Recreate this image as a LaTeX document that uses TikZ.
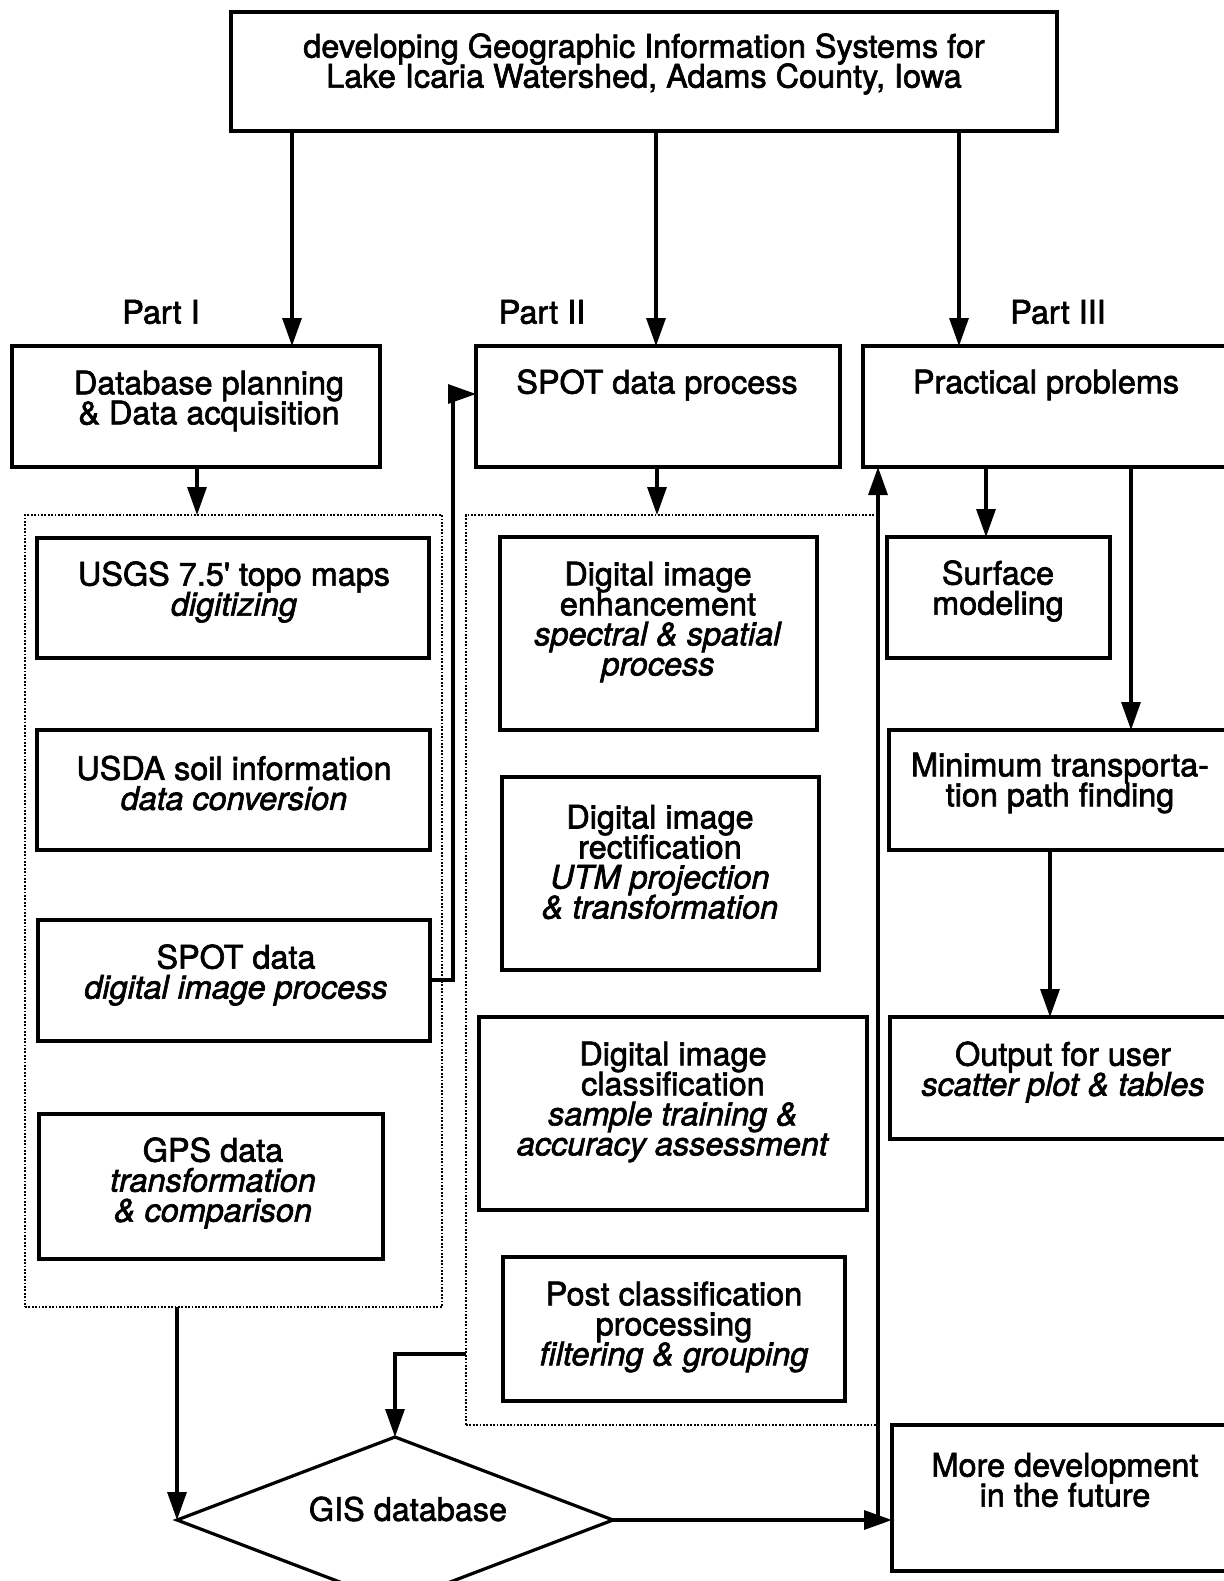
\documentclass[tikz,border=0pt]{standalone}
\usepackage{fontspec}
\setmainfont{TeX Gyre Heros}[UprightFeatures={FakeBold=2},ItalicFeatures={FakeBold=2}]
\newfontfamily\plainhv{TeX Gyre Heros}[FakeBold=2]
\usetikzlibrary{arrows.meta,shapes.geometric}
\lineskiplimit=-10pt
\newcommand\mkbox[6][bx]{%
  \pgfmathsetmacro\mkbw{(#5-#3)*0.5}%
  \pgfmathsetmacro\mkbh{(#6-#4)*0.5}%
  \node[#1, minimum width=\mkbw pt, minimum height=\mkbh pt] (#2) at ({(#3+#5)/2},{(#4+#6)/2}) {};}
\begin{document}
\begin{tikzpicture}[x=0.5pt,y=-0.5pt,
  bx/.style={draw, line width=1.6pt, inner sep=0pt, outer sep=0pt},
  dotbox/.style={draw, line width=1pt, dash pattern=on 0.9pt off 0.8pt, inner sep=0pt, outer sep=0pt},
  lbl/.style={align=center, inner sep=0pt, font=\fontsize{16.2pt}{15pt}\selectfont},
  arr/.style={line width=1.6pt, -{Triangle[length=14pt,width=9.5pt]}},
  ln/.style={line width=1.6pt}]
\useasboundingbox (0,0) rectangle (1224,1581);
\clip (0,0) rectangle (1224,1581);
% boxes
\mkbox{top}{231}{12}{1057}{131}
\mkbox{db}{12}{346}{380}{467}
\mkbox{spot}{476}{346}{840}{467}
\mkbox{prac}{863}{346}{1260}{467}
\mkbox[dotbox]{dotL}{25}{515}{442}{1307}
\mkbox{usgs}{37}{538}{429}{658}
\mkbox{usda}{37}{730}{430}{850}
\mkbox{spotd}{38}{920}{430}{1041}
\mkbox{gps}{39}{1114}{383}{1259}
\mkbox[dotbox]{dotM}{466}{515}{878}{1425}
\mkbox{enh}{500}{537}{817}{730}
\mkbox{rect}{502}{777}{819}{970}
\mkbox{cls}{479}{1017}{867}{1210}
\mkbox{post}{503}{1257}{845}{1401}
\mkbox{surf}{887}{537}{1110}{658}
\mkbox{minp}{889}{730}{1260}{850}
\mkbox{out}{890}{1017}{1260}{1139}
\mkbox{more}{892}{1425}{1260}{1571}
\node[bx, shape=diamond, minimum width=218pt, minimum height=83pt] (gis) at (395,1520) {};
% texts
\node[lbl] (topt) at (644,64) {developing Geographic Information Systems for\\Lake Icaria Watershed, Adams County, Iowa};
\node[lbl] (p1) at (161,312) {Part I};
\node[lbl] (p2) at (542,312) {Part II};
\node[lbl] (p3) at (1058,312) {Part III};
\node[lbl] (dbt) at (209,401) {Database planning\\\& Data acquisition};
\node[lbl] (spott) at (657,385) {SPOT data process};
\node[lbl] (pract) at (1046,385) {Practical problems};
\node[lbl] (usgst) at (234,592) {USGS 7.5{\plainhv'} topo maps\\\textit{digitizing}};
\node[lbl] (usdat) at (234,783) {USDA soil information\\\textit{data conversion}};
\node[lbl] (spotdt) at (236,975) {SPOT data\\\textit{digital image process}};
\node[lbl] (gpst) at (213,1183) {GPS data\\\textit{transformation}\\\textit{\& comparison}};
\node[lbl] (enht) at (658,622) {Digital image\\enhancement\\\textit{spectral \& spatial}\\\textit{process}};
\node[lbl] (rectt) at (660,862) {Digital image\\rectification\\\textit{UTM projection}\\\textit{\& transformation}};
\node[lbl] (clst) at (673,1102) {Digital image\\classification\\\textit{sample training \&}\\\textit{accuracy assessment}};
\node[lbl] (postt) at (674,1327) {Post classification\\processing\\\textit{filtering \& grouping}};
\node[lbl] (surft) at (998,591) {Surface\\modeling};
\node[lbl] (minpt) at (1060,783) {Minimum transporta-\\tion path finding};
\node[lbl] (outt) at (1063,1072) {Output for user\\\textit{scatter plot \& tables}};
\node[lbl] (moret) at (1065,1480) {More development\\in the future};
\node[lbl] (gist) at (408,1509) {GIS database};
% connector x positions
\coordinate (xa) at (292,0);
\coordinate (xb) at (656,0);
\coordinate (xc) at (959,0);
\coordinate (xd) at (197,0);
\coordinate (xe) at (657,0);
\coordinate (xf) at (453,0);
\coordinate (xg) at (878,0);
\coordinate (xh) at (986,0);
\coordinate (xi) at (1131,0);
\coordinate (xj) at (1050,0);
\coordinate (ya) at (0,980);
\coordinate (yb) at (0,394);
\coordinate (yc) at (0,1354);
% connectors
\draw[arr] (top.south -| xa) -- (db.north -| xa);
\draw[arr] (top.south -| xb) -- (spot.north -| xb);
\draw[arr] (top.south -| xc) -- (prac.north -| xc);
\draw[arr] (db.south -| xd) -- (dotL.north -| xd);
\draw[arr] (spot.south -| xe) -- (dotM.north -| xe);
\draw[arr] (spotd.east |- ya) -| (xf |- yb) -- (spot.west |- yb);
\draw[arr] (dotL.south -| gis.west) -- (gis.west);
\draw[arr] (dotM.west |- yc) -| (gis.north);
\draw[arr] (gis.east) -- (more.west |- gis.east);
\draw[arr] (xg |- gis.east) -- (prac.south -| xg);
\draw[arr] (prac.south -| xh) -- (surf.north -| xh);
\draw[arr] (prac.south -| xi) -- (minp.north -| xi);
\draw[arr] (minp.south -| xj) -- (out.north -| xj);
\end{tikzpicture}
\end{document}
